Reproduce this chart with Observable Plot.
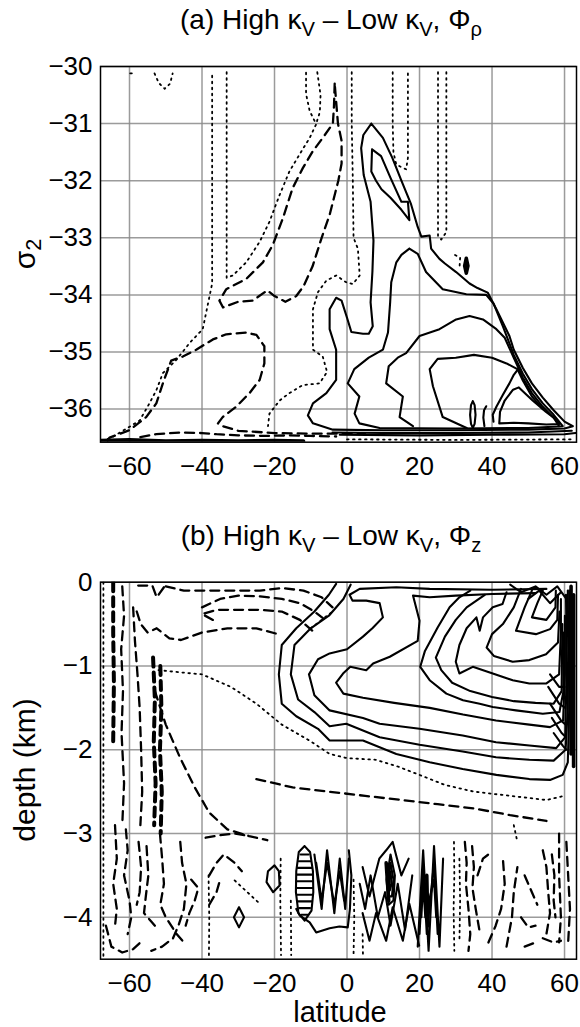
<!DOCTYPE html>
<html><head><meta charset="utf-8">
<script src="https://cdn.jsdelivr.net/npm/d3@7"></script>
<script src="https://cdn.jsdelivr.net/npm/@observablehq/plot@0.6"></script>
<style>
body{margin:0;background:#fff;}
#wrap{position:relative;width:580px;height:1027px;font-family:"Liberation Sans",Arial,Helvetica,sans-serif;color:#000;overflow:hidden;background:#fff;}
.title{position:absolute;z-index:2;left:0;width:662px;text-align:center;font-size:28px;line-height:30px;white-space:nowrap;}
.title sub{font-size:0.72em;vertical-align:-0.36em;line-height:0;}
.ylab{position:absolute;z-index:2;font-size:30px;line-height:32px;white-space:nowrap;transform:translate(-50%,-50%) rotate(-90deg);}
.ylab sub{font-size:0.72em;vertical-align:-0.3em;line-height:0;}
.xlab{position:absolute;z-index:2;left:0;width:680px;text-align:center;font-size:29px;line-height:26px;}
.pl{position:absolute;left:0;z-index:1;}
</style></head>
<body>
<div id="wrap">
  <div class="pl" id="pa" style="top:0px"></div>
  <div class="pl" id="pb" style="top:500px"></div>
  <div class="title" style="top:5px">(a) High κ<sub>V</sub> – Low κ<sub>V</sub>, Φ<sub>ρ</sub></div>
  <div class="title" style="top:521px">(b) High κ<sub>V</sub> – Low κ<sub>V</sub>, Φ<sub>z</sub></div>
  <div class="ylab" style="left:25px;top:254px">σ<sub>2</sub></div>
  <div class="ylab" style="left:25px;top:770px">depth (km)</div>
  <div class="xlab" style="top:999px">latitude</div>
</div>
<script>
// ---------- tick values ----------
const latTicks = [-60, -40, -20, 0, 20, 40, 60];
const sigmaTicks = [-36, -35, -34, -33, -32, -31, -30];
const depthTicks = [-4, -3, -2, -1, 0];

// ---------- panel (a): contour lines, [latitude, sigma2] ----------
const aSolid = [
  [[6.7,-31.0],[4.5,-31.2],[3.9,-31.43],[4.6,-31.9],[6.5,-32.37],[7.3,-33.05],[7.0,-33.6],[6.5,-34.13],[7.1,-34.55],[6,-34.68],[4.4,-34.68],[1.2,-34.65],[0,-34.4],[-1.5,-34.1],[-3,-34.05],[-4.8,-34.25],[-4.8,-34.6],[-3,-34.96],[-3,-35.49],[-5.7,-35.72],[-9.4,-35.9],[-10.8,-36.11],[-9.4,-36.25],[-3.9,-36.36],[10,-36.37],[30,-36.37],[50,-36.36],[60,-36.34],[62.3,-36.3],[60,-36.22],[57,-36.02],[54,-35.8],[51,-35.55],[48.5,-35.28],[46,-34.96],[44.8,-34.72],[41.2,-34.25],[38.8,-33.96],[36,-33.88],[33.8,-33.8],[30.1,-33.6],[27,-33.45],[25.5,-33.37],[23.2,-33.19],[22.8,-32.96],[20.5,-32.98],[19.5,-32.81],[17.6,-32.4],[15,-32.0],[12.5,-31.6],[9.9,-31.25],[6.7,-31.0]],
  [[6.9,-31.45],[6.7,-31.84],[8,-32.0],[9.5,-32.15],[12,-32.3],[15,-32.51],[17.2,-32.69],[16.8,-32.37],[15,-32.37],[12,-31.95],[9.4,-31.57],[6.9,-31.45]],
  [[17.2,-33.19],[15,-33.3],[13.6,-33.43],[12.2,-33.78],[11.9,-34.13],[11.3,-34.66],[9.9,-34.96],[6,-35.1],[2,-35.3],[0.2,-35.55],[3.4,-35.78],[2.1,-36.08],[3.4,-36.25],[9,-36.33],[30,-36.34],[50,-36.33],[59.5,-36.3],[57,-36.1],[54,-35.9],[51,-35.65],[48.5,-35.38],[46,-35.05],[43,-34.55],[40.4,-34.15],[38.4,-34.0],[32.9,-33.99],[26.4,-33.9],[21.8,-33.6],[19.5,-33.28],[17.2,-33.19]],
  [[18.2,-36.3],[14.5,-36.14],[15.4,-35.78],[10.8,-35.55],[11.5,-35.25],[14,-35.1],[16.3,-35.02],[20,-34.72],[25.5,-34.6],[30.1,-34.43],[33.8,-34.37],[37.5,-34.43],[41.2,-34.6],[43.5,-34.75],[46,-35.1],[48.5,-35.45],[51,-35.72],[54,-35.96],[57,-36.15],[58.5,-36.3]],
  [[33,-36.33],[26.4,-36.14],[23.7,-35.6],[22.8,-35.3],[25,-35.12],[30,-35.1],[35,-35.05],[40,-35.1],[44,-35.2],[47,-35.3],[48.5,-35.5],[51,-35.78],[54,-36.0]],
  [[40.4,-36.22],[40.2,-36.1],[41.2,-35.96],[43,-35.75],[44.8,-35.55],[46,-35.4],[47.2,-35.3]],
  [[42,-36.25],[46,-36.24],[50,-36.25],[55,-36.27],[58.6,-36.26],[57,-36.15],[54.9,-36.05],[51.2,-35.85],[47.4,-35.62],[45.8,-35.66],[43.5,-35.85],[42.2,-36.05],[42,-36.25]],
  [[34.7,-35.86],[35.2,-35.93],[35.45,-36.1],[35.2,-36.26],[34.7,-36.33],[34.2,-36.26],[33.95,-36.1],[34.2,-35.93],[34.7,-35.86]],
  [[38.4,-35.95],[37.8,-36.02],[37.6,-36.15],[37.9,-36.3]],
  [[-4,-36.41],[10,-36.42],[30,-36.42],[50,-36.41],[62,-36.38]],
  [[-2,-36.45],[20,-36.46],[40,-36.45],[60,-36.44],[63,-36.42]]
];
const aHeavy = [
  [[32.9,-33.36],[33.35,-33.49],[32.9,-33.62],[32.45,-33.49],[32.9,-33.36]],
  [[-68,-36.55],[-60,-36.54],[-50,-36.56],[-40,-36.55],[-30,-36.56],[-20,-36.55],[-12,-36.56]]
];
const aDashed = [
  [[-3.4,-30.3],[-3.6,-30.7],[-3.9,-31.0],[-6.7,-31.25],[-9.4,-31.48],[-12.2,-31.78],[-15,-32.13],[-17.7,-32.66],[-20.5,-33.13],[-23.2,-33.43],[-27.8,-33.72],[-33.3,-33.9],[-35.2,-34.1],[-34.2,-34.22],[-30,-34.12],[-26,-34.1],[-22,-33.92],[-20,-34.02],[-17,-34.12],[-14,-34.02],[-12,-33.85],[-9.5,-33.5],[-7,-33.0],[-4.8,-32.6],[-2.4,-32.0],[-1.5,-31.7],[-1.5,-31.3],[-2.5,-31.0],[-3.4,-30.3]],
  [[-66,-36.55],[-65.5,-36.5],[-60,-36.37],[-55.4,-36.14],[-52.6,-35.9],[-50.8,-35.55],[-48.5,-35.15],[-45.3,-35.08],[-41.6,-34.96],[-37,-34.78],[-33.3,-34.69],[-27.8,-34.66],[-25,-34.7],[-22.8,-34.9],[-22.8,-35.2],[-24.1,-35.49],[-26.9,-35.72],[-30.6,-35.96],[-34.3,-36.14],[-35.6,-36.25],[-34.3,-36.3],[-30,-36.38],[-20,-36.42],[-10,-36.43],[0,-36.43],[5,-36.44]],
  [[-57,-36.49],[-52.6,-36.44],[-46,-36.41],[-40,-36.42],[-36,-36.44],[-30,-36.46],[-22,-36.47],[-16,-36.46],[-10,-36.47],[-3,-36.48]]
];
const aDotted = [
  [[-66,-36.52],[-65,-36.5],[-60,-36.31],[-57.2,-36.2],[-54.5,-35.9],[-52.6,-35.67],[-50.8,-35.37],[-47.1,-35.14],[-43.4,-34.84],[-39.8,-34.6],[-38.5,-34.2],[-37.2,-33.8],[-37.2,-32],[-37.2,-30.1]],
  [[-33.2,-30.1],[-33.2,-32],[-33.2,-33.7],[-31.5,-33.66],[-27.8,-33.43],[-24.1,-33.07],[-21.4,-32.72],[-18.6,-32.25],[-15.9,-31.84],[-13.1,-31.54],[-10.3,-31.25],[-8.5,-31.01],[-10.3,-30.78],[-11.3,-30.48],[-11.3,-30.1]],
  [[-8.2,-30.1],[-7.3,-30.5],[-7.5,-30.8],[-8.5,-31.0]],
  [[1.3,-30.1],[1.3,-31],[1.6,-32],[1.8,-33.0],[3,-33.19],[3.5,-33.66],[1.6,-33.81],[-0.2,-33.78],[-3,-33.66],[-5.7,-33.75],[-8,-33.95],[-9.4,-34.25],[-9.4,-34.96],[-6.7,-35.08],[-5.5,-35.35],[-7.6,-35.55],[-12.2,-35.58],[-15.9,-35.72],[-18.6,-35.85],[-21.4,-36.08],[-21.8,-36.3]],
  [[12.6,-30.1],[12.6,-31.0],[12.8,-31.5],[13.6,-31.72],[16.3,-31.8],[16.8,-31.6],[16.8,-31.0],[16.8,-30.1]],
  [[25.1,-30.1],[25.1,-32.97],[26,-33.03],[27.4,-32.9],[27.4,-30.1]],
  [[-53.1,-30.12],[-51.9,-30.29],[-50.3,-30.39],[-48.8,-30.3],[-48.1,-30.12]],
  [[-59.8,-30.12],[-58.4,-30.12]],
  [[29.8,-33.3],[31.2,-33.35],[31,-33.55]],
  [[0,-36.53],[30,-36.54],[62,-36.53]]
];

// ---------- panel (b): contour lines, [latitude, depth km] ----------
const bSolid = [
  [[-3,-0.02],[-5,-0.15],[-9,-0.35],[-14,-0.55],[-18,-0.75],[-18.8,-1.1],[-18,-1.45],[-14,-1.6],[-8,-1.75],[-4.8,-1.89],[4.4,-1.89],[13.6,-2.05],[22.8,-2.15],[31.9,-2.23],[41.2,-2.3],[50.3,-2.35],[56,-2.36],[59.5,-2.3],[60.9,-2.15],[61.3,-1.5],[61.4,-0.8],[61.3,-0.1]],
  [[1,-0.03],[-1,-0.2],[-5,-0.4],[-10,-0.55],[-14.5,-0.75],[-15.5,-1.1],[-13.5,-1.4],[-9,-1.55],[-4.8,-1.72],[-0.2,-1.69],[9,-1.85],[20,-1.94],[31.9,-2.02],[41.1,-2.09],[50.3,-2.12],[57,-2.13],[60.3,-2.0],[60.9,-1.5],[61,-0.8],[60.9,-0.1]],
  [[55,-0.08],[40,-0.09],[22.8,-0.08],[13.6,-0.06],[3.5,-0.08],[0.7,-0.15],[1.5,-0.22],[5.3,-0.22],[9,-0.25],[9.9,-0.42],[7,-0.55],[4.4,-0.65],[0,-0.8],[-4.8,-0.85],[-8,-0.92],[-10.5,-1.1],[-9,-1.35],[-4.8,-1.53],[4.4,-1.62],[9,-1.69],[20,-1.75],[31.9,-1.83],[41.1,-1.91],[50.3,-1.95],[57.7,-1.98],[60.2,-1.85],[60.5,-1.2],[60.5,-0.5],[60.4,-0.15]],
  [[52,-0.13],[40,-0.14],[30,-0.16],[22.8,-0.18],[18.2,-0.16],[20,-0.46],[19.5,-0.7],[11.8,-0.89],[7.2,-0.97],[5.3,-1.05],[0.9,-1.01],[-1.1,-1.09],[-3,-1.2],[-1,-1.33],[4.4,-1.38],[13,-1.44],[22.8,-1.5],[32,-1.58],[41.1,-1.65],[50.3,-1.7],[56,-1.73],[59.6,-1.65],[60.1,-1.1],[60.1,-0.4]],
  [[34,-0.1],[31,-0.18],[28.3,-0.3],[25,-0.54],[21.5,-0.82],[20.2,-1.01],[22.8,-1.17],[27.4,-1.33],[32,-1.41],[36.6,-1.45],[40.2,-1.49],[46.6,-1.53],[54,-1.57],[58.6,-1.55],[59.7,-1.3],[59.8,-0.6]],
  [[38,-0.15],[33,-0.3],[30,-0.45],[27,-0.65],[24.5,-0.9],[26,-1.05],[29,-1.2],[34,-1.3],[40,-1.37],[46,-1.42],[52,-1.44],[57,-1.45],[59.2,-1.3],[59.4,-0.5]],
  [[44,-0.12],[42.9,-0.26],[40.2,-0.3],[37.5,-0.42],[36.6,-0.58],[35.7,-0.42],[33,-0.55],[31,-0.75],[30,-0.95],[31,-1.09],[34.7,-1.01],[40.2,-1.09],[45.7,-1.17],[50.3,-1.21],[54.9,-1.21],[58.5,-1.1],[59,-0.6],[59,-0.2]],
  [[48,-0.08],[46,-0.3],[43,-0.5],[40,-0.62],[38.5,-0.78],[40.5,-0.88],[45.7,-0.95],[50.3,-0.93],[54.9,-0.86],[58.2,-0.72],[58.6,-0.35]],
  [[51,-0.1],[49,-0.3],[46.6,-0.58],[52.1,-0.62],[56,-0.56],[58,-0.45],[58.2,-0.15]],
  [[54,-0.1],[52.5,-0.25],[51,-0.42],[55,-0.45],[57.5,-0.3],[57.6,-0.1]],
  [[45,-0.03],[48,-0.12],[52,-0.05],[55,-0.15],[58,-0.05],[60.5,-0.2]],
  [[50,-0.2],[53,-0.1],[56,-0.25],[59,-0.12]],
  [[56,-1.1],[58.5,-1.25],[60,-1.25]],
  [[55.5,-1.25],[58.5,-1.45],[60.2,-1.5]],
  [[56,-1.45],[59,-1.65],[60.3,-1.7]],
  [[56.5,-1.62],[59.2,-1.8],[60.4,-1.85]],
  [[57,-1.8],[59.5,-1.95],[60.5,-2.0]],
  [[-21.8,-3.45],[-20,-3.38],[-18.8,-3.45],[-18.6,-3.62],[-20.4,-3.7],[-22.2,-3.58],[-21.8,-3.45]],
  [[-29.8,-3.88],[-28.4,-4.0],[-29.8,-4.12],[-31.2,-4.0],[-29.8,-3.88]],
  [[-11.7,-3.15],[-10.2,-3.22],[-9.4,-3.45],[-9.3,-3.7],[-9.8,-3.92],[-11.7,-4.04],[-13.4,-3.95],[-14.1,-3.7],[-14,-3.45],[-13.3,-3.22],[-11.7,-3.15]],
  [[-12.8,-3.25],[-10.6,-3.25]],[[-13.3,-3.33],[-10.1,-3.33]],[[-13.6,-3.41],[-9.8,-3.41]],[[-13.8,-3.49],[-9.6,-3.49]],[[-13.9,-3.57],[-9.5,-3.57]],
  [[-13.9,-3.65],[-9.5,-3.65]],[[-13.8,-3.73],[-9.6,-3.73]],[[-13.6,-3.81],[-9.8,-3.81]],[[-13.2,-3.89],[-10.2,-3.89]],[[-12.6,-3.97],[-10.8,-3.97]],
  [[-9,-3.25],[-7,-3.9],[-5.5,-3.2],[-3.5,-3.95],[-2,-3.3],[-0.5,-3.9],[0.5,-3.3]],
  [[-8.5,-3.35],[-7,-3.8],[-5.5,-3.35],[-3.5,-3.85],[-2,-3.45],[-0.8,-3.8]],
  [[-14,-3.9],[-13,-3.98],[-10.3,-4.06],[-8.5,-4.18],[-4.8,-4.13],[-2.1,-4.11],[0.2,-4.12],[0.8,-3.9],[1.2,-3.5],[0.5,-3.2]],
  [[4.3,-3.95],[6.2,-4.28],[8,-3.95],[10.8,-4.28],[12.6,-3.88],[15.4,-4.28],[17.2,-3.84],[19.9,-4.34]],
  [[3.5,-3.6],[5,-3.9],[6.5,-3.5],[8.5,-4.0],[10.5,-3.7],[12,-4.1],[14,-3.6],[16,-4.15],[18,-3.5]],
  [[4.3,-3.4],[6.2,-3.75],[8.9,-3.3],[10.8,-3.2],[12.6,-3.1],[15,-3.5],[17,-3.3]],
  [[12,-3.25],[13.2,-3.5],[12.8,-3.8],[11.5,-3.85],[10.9,-3.55],[12,-3.25]],
  [[12,-3.35],[12.8,-3.55],[12.4,-3.75],[11.6,-3.75],[11.3,-3.55],[12,-3.35]],
  [[12,-3.45],[12.3,-3.6],[11.8,-3.68],[11.6,-3.55],[12,-3.45]],
  [[19.5,-4.35],[21,-3.2],[22.5,-4.4],[24,-3.15],[25.5,-4.35],[26.5,-3.3]],
  [[20,-4.2],[21,-3.4],[22,-4.2],[24,-3.35],[25,-4.2]],
  [[20.5,-4.0],[21,-3.6],[21.6,-4.0],[24,-3.55],[24.6,-4.0]]
];
const bHeavy = [
  [[61.8,-0.05],[61.8,-2.05]],
  [[62.5,-0.15],[62.5,-2.2]],
  [[10.8,-3.35],[11.5,-3.8]],
  [[22,-3.5],[22.3,-4.1]]
];
const bDashed = [
  [[-50,-0.05],[-45,-0.1],[-38,-0.1],[-32,-0.1],[-24,-0.1],[-18,-0.07],[-12,-0.1],[-7,-0.18],[-4,-0.3]],
  [[-40,-0.3],[-35,-0.2],[-30,-0.16],[-24,-0.17],[-18,-0.2],[-13,-0.25],[-9,-0.35],[-6,-0.45]],
  [[-37,-0.45],[-40,-0.38],[-36,-0.33],[-30,-0.33],[-24,-0.33],[-18,-0.35],[-13,-0.45],[-9,-0.6]],
  [[-57.6,-0.04],[-53.7,-0.04],[-52.5,-0.18],[-50.5,-0.06]],
  [[-58,-0.35],[-56.9,-0.5],[-55,-0.6],[-52.5,-0.55],[-49,-0.67],[-45.8,-0.69],[-40,-0.6],[-33,-0.55],[-25,-0.55],[-19,-0.62]],
  [[-62,-0.05],[-61.5,-0.4],[-62.3,-0.8],[-61.8,-1.3],[-62.2,-1.8],[-61.5,-2.4],[-62,-2.9]],
  [[-59,-0.3],[-58.5,-0.7],[-57.8,-1.1],[-57.2,-1.5],[-56.8,-2.0],[-56.5,-2.5],[-57,-2.9]],
  [[-53,-1.3],[-50,-1.7],[-46,-2.1],[-42,-2.45],[-38,-2.75],[-33,-2.95],[-27,-3.03],[-22,-3.08]],
  [[-25,-2.35],[-15,-2.45],[-5,-2.5],[5,-2.55],[15,-2.6],[25,-2.65],[35,-2.7],[45,-2.78],[55,-2.85]],
  [[-64,-2.9],[-63.5,-3.3],[-64.5,-3.6],[-63.5,-3.9],[-64,-4.1]],
  [[-61,-2.95],[-60.5,-3.2],[-61.5,-3.5],[-60,-3.8],[-59.5,-4.0],[-60.5,-4.2]],
  [[-57.5,-3.1],[-56.8,-3.4],[-57.2,-3.7],[-58,-3.85]],
  [[-55.3,-3.15],[-54.8,-3.5],[-55.5,-3.75],[-56,-3.95],[-54,-4.05],[-52,-4.15]],
  [[-51.6,-3.0],[-51,-3.3],[-50.5,-3.6],[-51.5,-3.85],[-50,-4.0],[-47,-4.2],[-45,-4.3]],
  [[-46,-3.1],[-45.5,-3.35],[-44.3,-3.6],[-45,-3.9],[-46.5,-4.1],[-48,-4.25],[-51,-4.35],[-54,-4.4]],
  [[-66.5,-4.1],[-65,-4.35],[-62,-4.42],[-59,-4.38],[-57,-4.3]],
  [[-43,-3.55],[-41,-3.65],[-42,-3.8],[-43.5,-3.95],[-44.5,-4.1]],
  [[-39,-3.05],[-35,-3.02],[-31,-3.0],[-27,-3.03]],
  [[-38,-3.5],[-36,-3.35],[-34,-3.25],[-31,-3.35],[-29,-3.45]],
  [[-38,-3.85],[-36,-3.7],[-35,-3.55]],
  [[32.5,-3.1],[33,-3.35],[32.8,-3.6],[33.5,-3.9],[34,-4.2],[33.5,-4.4]],
  [[34.5,-3.15],[35,-3.4],[34.6,-3.65],[35.5,-3.9],[36.5,-4.15]],
  [[36,-3.5],[37.5,-3.3],[39,-3.25]],
  [[39,-4.3],[41,-4.1],[42.5,-3.9],[43.5,-3.6],[43,-3.3]],
  [[44,-4.35],[45.5,-4.0],[46,-3.7],[47,-3.4]],
  [[48,-4.0],[50,-4.12],[52,-4.1]],
  [[49,-3.5],[51,-3.7],[52.5,-3.85]],
  [[54,-3.2],[55,-3.4],[55.5,-3.7],[56,-3.95],[55,-4.2]],
  [[56.5,-3.25],[57.2,-3.5],[57,-3.8],[57.5,-4.0]],
  [[58.5,-3.0],[58.5,-3.5],[59,-4.0],[58.5,-4.3]],
  [[60.5,-3.1],[61,-3.5],[61.5,-3.9],[61,-4.3]],
  [[54,-4.25],[57,-4.3],[59,-4.28]],
  [[49,-4.35],[52,-4.3]]
];
const bHeavyDashed = [
  [[-64.5,0],[-64.5,-0.6],[-64.3,-1.2],[-64.5,-1.9]],
  [[-53.5,-0.9],[-53,-1.4],[-53.3,-1.9],[-52.8,-2.4],[-53.2,-2.9]],
  [[-51.5,-1.0],[-51.2,-1.5],[-51.6,-2.0],[-51.1,-2.5],[-51.4,-3.0]]
];
const bDotted = [
  [[-52,-1.05],[-45,-1.08],[-40,-1.1],[-32,-1.25],[-25,-1.45],[-18,-1.7],[-10,-1.9],[-4.8,-2.05],[0,-2.1],[8,-2.12],[14,-2.2],[20,-2.3],[27,-2.42],[35,-2.5],[45,-2.55],[55,-2.6],[60,-2.55]],
  [[-67.2,0],[-67.2,-4.5]],
  [[-38.2,-3.5],[-38,-4.0],[-38.1,-4.5]],
  [[-18.3,-3.3],[-18.4,-3.8],[-18.2,-4.45]],
  [[-15.5,-3.8],[-15.4,-4.45]],
  [[-31,-3.56],[-27.5,-3.7],[-24,-3.84]],
  [[1.8,-3.55],[2,-4.0],[1.8,-4.45]],
  [[4.3,-4.2],[4.4,-4.45]],
  [[29.5,-3.1],[29.6,-3.5],[29.4,-3.9],[29.6,-4.4]],
  [[31,-3.3],[31.2,-3.8],[31,-4.3]],
  [[46,-2.9],[47,-3.1]],
  [[-10,-0.55],[-7,-0.45],[-4,-0.35]]
];

// ---------- drawing ----------
const rows = (lines) => lines.flatMap((pts, i) => pts.map(([lat, v]) => ({id: i, lat, v})));
const lineOpts = {x: "lat", y: "v", z: "id", stroke: "black", clip: true, strokeLinejoin: "round"};
const fmt = (d) => (d < 0 ? "\u2212" : "") + Math.abs(d);

function panel({solid, heavy, dashed, heavyDashed, dotted, yDomain, yTicks, height, marginTop, marginBottom}) {
  return Plot.plot({
    width: 580, height, marginLeft: 100, marginRight: 4, marginTop, marginBottom,
    style: {fontFamily: "'Liberation Sans', Arial, sans-serif", fontSize: "26px", background: "transparent", color: "black", overflow: "visible"},
    x: {domain: [-68, 63.3], ticks: latTicks, tickSize: 0, tickPadding: 14, label: null, tickFormat: fmt},
    y: {domain: yDomain, ticks: yTicks, tickSize: 0, tickPadding: 8, label: null, tickFormat: fmt},
    marks: [
      Plot.ruleX(latTicks, {stroke: "#8a8a8a", strokeWidth: 1.5, strokeOpacity: 0.85}),
      Plot.ruleY(yTicks, {stroke: "#8a8a8a", strokeWidth: 1.5, strokeOpacity: 0.85}),
      Plot.line(rows(dotted), {...lineOpts, strokeWidth: 1.8, strokeDasharray: "1.6,4.4"}),
      Plot.line(rows(dashed), {...lineOpts, strokeWidth: 2.3, strokeDasharray: "9,6"}),
      Plot.line(rows(heavyDashed), {...lineOpts, strokeWidth: 4, strokeDasharray: "9,6"}),
      Plot.line(rows(solid), {...lineOpts, strokeWidth: 2.1}),
      Plot.line(rows(heavy), {...lineOpts, strokeWidth: 3.6}),
      Plot.frame({stroke: "black", strokeWidth: 1.5})
    ]
  });
}

document.getElementById("pa").append(panel({
  solid: aSolid, heavy: aHeavy, dashed: aDashed, heavyDashed: [], dotted: aDotted,
  yDomain: [-36.58, -30], yTicks: sigmaTicks, height: 490, marginTop: 66, marginBottom: 48.3
}));
document.getElementById("pb").append(panel({
  solid: bSolid, heavy: bHeavy, dashed: bDashed, heavyDashed: bHeavyDashed, dotted: bDotted,
  yDomain: [-4.5, 0], yTicks: depthTicks, height: 500, marginTop: 81.7, marginBottom: 41.3
}));
</script>
</body></html>
